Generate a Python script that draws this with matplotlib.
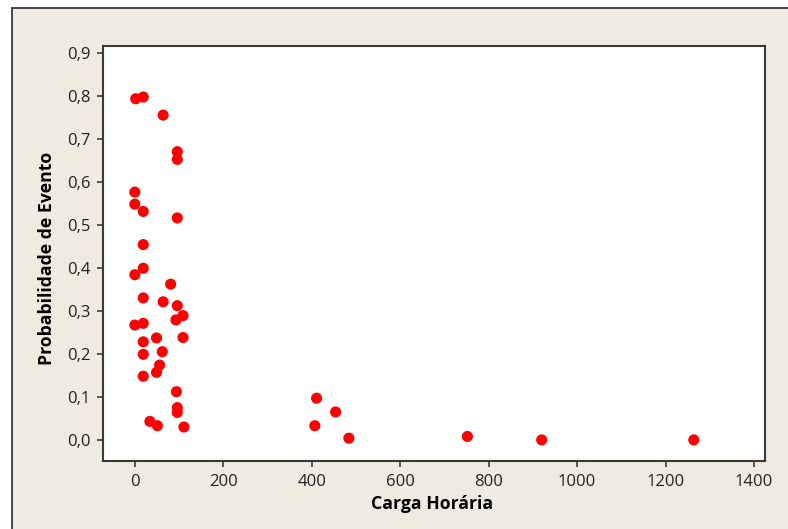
import numpy as np
import matplotlib.pyplot as plt
from matplotlib.patches import Rectangle
from matplotlib.ticker import FuncFormatter

# carga horaria vs probabilidade de evento
carga = [2, 19, 64, 96, 96, 0, 0, 19, 96, 19,
         0, 19, 81, 19, 64, 96, 109, 93, 0, 19,
         19, 49, 109, 19, 62, 56, 49, 19, 94, 96,
         96, 34, 51, 111, 411, 407, 454, 484, 752, 920,
         1264]
prob = [0.793, 0.797, 0.755, 0.670, 0.652, 0.576, 0.548, 0.531, 0.516, 0.454,
        0.384, 0.399, 0.362, 0.330, 0.321, 0.312, 0.289, 0.279, 0.267, 0.271,
        0.228, 0.237, 0.238, 0.199, 0.205, 0.174, 0.157, 0.148, 0.112, 0.075,
        0.064, 0.043, 0.033, 0.030, 0.097, 0.033, 0.065, 0.004, 0.008, 0.0,
        0.0]

xticks = [0, 200, 400, 600, 800, 1000, 1200, 1400]
yticks = [0.0, 0.1, 0.2, 0.3, 0.4, 0.5, 0.6, 0.7, 0.8, 0.9]

plt.rcParams['font.family'] = ['Open Sans', 'DejaVu Sans']

W, H = 788, 529
fig = plt.figure(figsize=(W / 100, H / 100), dpi=100, facecolor='white')

# beige panel with dark frame, running off the right/bottom edge
fig.patches.append(Rectangle((12 / W, -0.05), 1.1, 1 - 8 / H + 0.05,
                             transform=fig.transFigure, facecolor='#EFEBE1',
                             edgecolor='#3A3A3A', linewidth=1.3, zorder=-1))

ax = fig.add_axes([103 / W, 68 / H, 662 / W, 415 / H])
ax.set_zorder(2)
ax.set_facecolor('white')
ax.scatter(carga, prob, s=64, color='#FF0000', edgecolors='none', zorder=3)

ax.set_xlim(-72, 1425)
ax.set_ylim(-0.049, 0.9156)
ax.set_xticks(xticks)
ax.set_yticks(yticks)
ax.yaxis.set_major_formatter(FuncFormatter(lambda v, p: f'{v:.1f}'.replace('.', ',')))

for sp in ax.spines.values():
    sp.set_color('#3A3A3A')
    sp.set_linewidth(1.5)
ax.tick_params(direction='out', length=4, width=1.2, color='#3A3A3A',
               labelsize=12, labelcolor='#222222', pad=5)

ax.set_xlabel('Carga Horária', fontsize=12.7, fontweight='bold', va='center')
ax.set_ylabel('Probabilidade de Evento', fontsize=12.7, fontweight='bold', va='center')
ax.xaxis.set_label_coords(0.4975, -0.1036)
ax.yaxis.set_label_coords(-0.0853, 0.488)

fig.savefig('out.png', dpi=100, facecolor=fig.get_facecolor())
